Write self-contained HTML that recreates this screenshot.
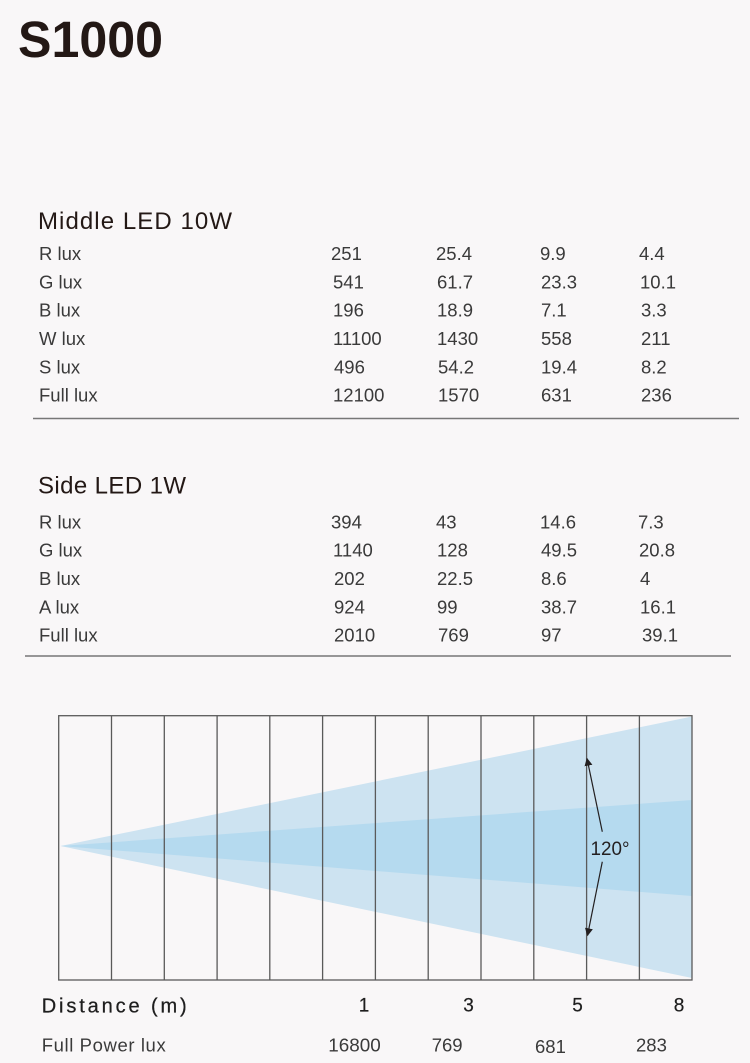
<!DOCTYPE html>
<html>
<head>
<meta charset="utf-8">
<style>
  html, body { margin:0; padding:0; background:#f9f7f8; }
  body { width:750px; height:1063px; overflow:hidden; }
  svg { display:block; }
  text { font-family: "Liberation Sans", "Noto Sans CJK SC", sans-serif; }
</style>
</head>
<body>
<svg width="750" height="1063" viewBox="0 0 750 1063" xmlns="http://www.w3.org/2000/svg">
  <defs>
    <marker id="ah" viewBox="0 0 10 10" refX="9" refY="5" markerWidth="8" markerHeight="8" markerUnits="userSpaceOnUse" orient="auto">
      <path d="M0,0 L10,5 L0,10 z" fill="#231f20"/>
    </marker>
  </defs>
  <rect width="750" height="1063" fill="#f9f7f8"/>

  <!-- Title -->
  <text x="18" y="57" font-size="51" font-weight="bold" fill="#231815" textLength="145" lengthAdjust="spacingAndGlyphs">S1000</text>

  <!-- Middle LED 10W -->
  <text x="38" y="229" font-size="24" fill="#231815" textLength="194" lengthAdjust="spacing">Middle LED 10W</text>
  <g font-size="18.5" fill="#3a3a3a">
    <text x="39" y="260">R lux</text>
    <text x="39" y="288.3">G lux</text>
    <text x="39" y="316.7">B lux</text>
    <text x="39" y="345">W lux</text>
    <text x="39" y="373.3">S lux</text>
    <text x="39" y="401.7">Full lux</text>

    <text x="331" y="260">251</text>
    <text x="333" y="288.3">541</text>
    <text x="333" y="316.7">196</text>
    <text x="333" y="345">11100</text>
    <text x="334" y="373.3">496</text>
    <text x="333" y="401.7">12100</text>

    <text x="436" y="260">25.4</text>
    <text x="437" y="288.3">61.7</text>
    <text x="437" y="316.7">18.9</text>
    <text x="437" y="345">1430</text>
    <text x="438" y="373.3">54.2</text>
    <text x="438" y="401.7">1570</text>

    <text x="540" y="260">9.9</text>
    <text x="541" y="288.3">23.3</text>
    <text x="541" y="316.7">7.1</text>
    <text x="541" y="345">558</text>
    <text x="541" y="373.3">19.4</text>
    <text x="541" y="401.7">631</text>

    <text x="639" y="260">4.4</text>
    <text x="640" y="288.3">10.1</text>
    <text x="641" y="316.7">3.3</text>
    <text x="641" y="345">211</text>
    <text x="641" y="373.3">8.2</text>
    <text x="641" y="401.7">236</text>
  </g>
  <line x1="33" y1="418.5" x2="739" y2="418.5" stroke="#777" stroke-width="1.5"/>

  <!-- Side LED 1W -->
  <text x="38" y="493.3" font-size="24" fill="#231815" textLength="148" lengthAdjust="spacing">Side LED 1W</text>
  <g font-size="18.5" fill="#3a3a3a">
    <text x="39" y="528.3">R lux</text>
    <text x="39" y="556.7">G lux</text>
    <text x="39" y="585">B lux</text>
    <text x="39" y="613.3">A lux</text>
    <text x="39" y="641.7">Full lux</text>

    <text x="331" y="528.3">394</text>
    <text x="333" y="556.7">1140</text>
    <text x="334" y="585">202</text>
    <text x="334" y="613.3">924</text>
    <text x="334" y="641.7">2010</text>

    <text x="436" y="528.3">43</text>
    <text x="437" y="556.7">128</text>
    <text x="437" y="585">22.5</text>
    <text x="437" y="613.3">99</text>
    <text x="438" y="641.7">769</text>

    <text x="540" y="528.3">14.6</text>
    <text x="541" y="556.7">49.5</text>
    <text x="541" y="585">8.6</text>
    <text x="541" y="613.3">38.7</text>
    <text x="541" y="641.7">97</text>

    <text x="638" y="528.3">7.3</text>
    <text x="639" y="556.7">20.8</text>
    <text x="640" y="585">4</text>
    <text x="640" y="613.3">16.1</text>
    <text x="642" y="641.7">39.1</text>
  </g>
  <line x1="25" y1="656" x2="731" y2="656" stroke="#777" stroke-width="1.5"/>

  <!-- Beam diagram -->
  <polygon points="60.5,846 692,716.5 692,978" fill="#cde3f1"/>
  <polygon points="60.5,846 692,800 692,896" fill="#b5daef"/>
  <g stroke="#5a5a5a" stroke-width="1.3" fill="none">
    <rect x="58.7" y="715.7" width="633.3" height="264.3"/>
    <line x1="111.5" y1="715.7" x2="111.5" y2="980"/>
    <line x1="164.3" y1="715.7" x2="164.3" y2="980"/>
    <line x1="217.1" y1="715.7" x2="217.1" y2="980"/>
    <line x1="269.8" y1="715.7" x2="269.8" y2="980"/>
    <line x1="322.6" y1="715.7" x2="322.6" y2="980"/>
    <line x1="375.4" y1="715.7" x2="375.4" y2="980"/>
    <line x1="428.2" y1="715.7" x2="428.2" y2="980"/>
    <line x1="481" y1="715.7" x2="481" y2="980"/>
    <line x1="533.8" y1="715.7" x2="533.8" y2="980"/>
    <line x1="586.6" y1="715.7" x2="586.6" y2="980"/>
    <line x1="639.4" y1="715.7" x2="639.4" y2="980"/>
  </g>
  <!-- arrows -->
  <line x1="602.3" y1="831.7" x2="587" y2="758.5" stroke="#231f20" stroke-width="1.2" marker-end="url(#ah)"/>
  <line x1="602.3" y1="861.7" x2="587.5" y2="935.5" stroke="#231f20" stroke-width="1.2" marker-end="url(#ah)"/>
  <text x="590.5" y="855" font-size="19.5" fill="#231f20" textLength="39" lengthAdjust="spacingAndGlyphs">120°</text>

  <!-- Bottom labels -->
  <text x="41.7" y="1012.3" font-size="20" fill="#1e1e1e" textLength="145" lengthAdjust="spacing" stroke="#1e1e1e" stroke-width="0.25">Distance (m)</text>
  <g font-size="19" fill="#1e1e1e" text-anchor="middle" stroke="#1e1e1e" stroke-width="0.2">
    <text x="364" y="1011.7">1</text>
    <text x="468.5" y="1011.7">3</text>
    <text x="577.5" y="1011.7">5</text>
    <text x="679" y="1011.7">8</text>
  </g>
  <text x="41.7" y="1051.7" font-size="18.5" fill="#3a3a3a" textLength="124" lengthAdjust="spacing">Full Power lux</text>
  <g font-size="18.5" fill="#3a3a3a">
    <text x="328.3" y="1051.7" textLength="52.5" lengthAdjust="spacingAndGlyphs">16800</text>
    <text x="431.7" y="1051.7">769</text>
    <text x="535" y="1053">681</text>
    <text x="636" y="1051.7">283</text>
  </g>
</svg>
</body>
</html>
